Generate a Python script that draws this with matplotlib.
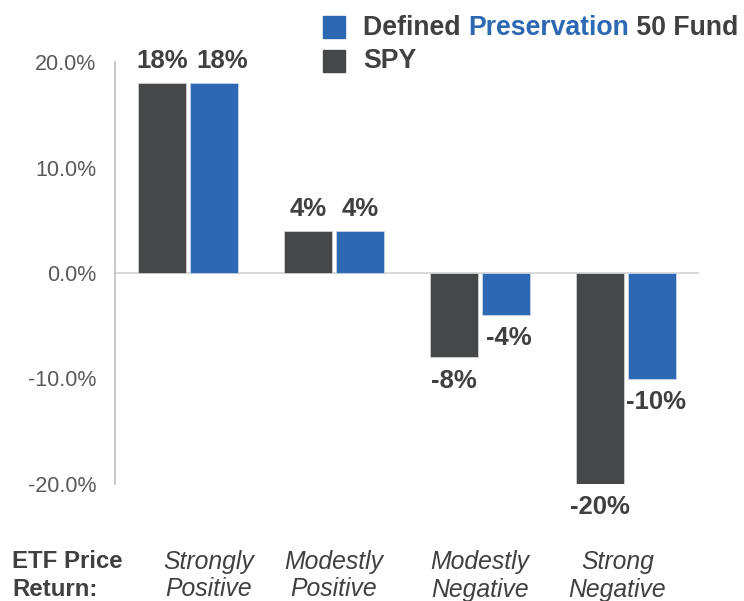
import matplotlib
matplotlib.use("Agg")
import matplotlib.pyplot as plt
from matplotlib.patches import Rectangle

plt.rcParams['font.family'] = ['Liberation Sans', 'DejaVu Sans']

categories = [("Strongly", "Positive"), ("Modestly", "Positive"),
              ("Modestly", "Negative"), ("Strong", "Negative")]
spy = [18, 4, -8, -20]
fund = [18, 4, -4, -10]
yticks = [-20, -10, 0, 10, 20]

SPY_COLOR = '#464749'
FUND_COLOR = '#2d68b3'
TEXT_DARK = '#404040'

W, H = 744, 601
fig = plt.figure(figsize=(W / 100, H / 100), dpi=100)
ax = fig.add_axes([115 / W, (H - 484) / H, 584 / W, 422 / H])

x = list(range(len(categories)))
bw = 0.335
off = 0.178
b1 = ax.bar([i - off for i in x], spy, bw, color=SPY_COLOR, edgecolor='#d0d0d0', linewidth=0.6, zorder=2)
b2 = ax.bar([i + off for i in x], fund, bw, color=FUND_COLOR, edgecolor='#c8d4e6', linewidth=0.6, zorder=2)

# small horizontal shifts (points) of the value labels, as in the original
spy_shift = [0, 0, 0, 0]
fund_shift = [6, 0, 2, 3]
for bars, vals, shifts in ((b1, spy, spy_shift), (b2, fund, fund_shift)):
    for bar, v, dx in zip(bars, vals, shifts):
        cx = bar.get_x() + bar.get_width() / 2
        if v >= 0:
            ax.annotate(f"{v}%", (cx, v), xytext=(dx, 7), textcoords='offset points',
                        ha='center', va='bottom', fontsize=18.5, fontweight='bold',
                        color=TEXT_DARK, annotation_clip=False)
        else:
            ax.annotate(f"{v}%", (cx, v), xytext=(dx, -8), textcoords='offset points',
                        ha='center', va='top', fontsize=18.5, fontweight='bold',
                        color=TEXT_DARK, annotation_clip=False)

ax.set_xlim(-0.5, 3.5)
ax.set_ylim(-20, 20)
ax.axhline(0, color='#d9d9d9', linewidth=1.5, zorder=1)
for s in ('top', 'right', 'bottom'):
    ax.spines[s].set_visible(False)
ax.spines['left'].set_color('#c0c0c0')
ax.spines['left'].set_linewidth(1.2)
ax.set_xticks([])
ax.set_yticks(yticks)
ax.set_yticklabels([f"{t:.1f}%" for t in yticks])
ax.tick_params(axis='y', length=0, pad=13.5, labelsize=15.5, labelcolor='#595959')

# category labels under the plot
label_nudge = [0.14, 0, 0, -0.06]
for i, (l1, l2) in enumerate(categories):
    ax.text(i + label_nudge[i], -27.4, l1, ha='center', va='center', fontsize=17.8,
            style='italic', color=TEXT_DARK, clip_on=False)
    ax.text(i + label_nudge[i], -30.0, l2, ha='center', va='center', fontsize=17.8,
            style='italic', color=TEXT_DARK, clip_on=False)
fig.text(12 / W, 1 - 561 / H, "ETF Price", ha='left', va='center', fontsize=17.3,
         fontweight='bold', color=TEXT_DARK)
fig.text(12 / W, 1 - 589 / H, "Return:", ha='left', va='center', fontsize=17.3,
         fontweight='bold', color=TEXT_DARK)

# legend drawn by hand
fig.patches.append(Rectangle((323 / W, 1 - 38 / H), 22 / W, 22 / H,
                             transform=fig.transFigure, color=FUND_COLOR))
fig.patches.append(Rectangle((323 / W, 1 - 72 / H), 22 / W, 22 / H,
                             transform=fig.transFigure, color=SPY_COLOR))

renderer = fig.canvas.get_renderer()
xpos = 363 / W
for piece, col in (("Defined ", TEXT_DARK), ("Preservation", FUND_COLOR), (" 50 Fund", TEXT_DARK)):
    t = fig.text(xpos, 1 - 28 / H, piece, ha='left', va='center', fontsize=19.2,
                 fontweight='bold', color=col)
    bb = t.get_window_extent(renderer)
    xpos = bb.x1 / W
fig.text(363 / W, 1 - 61 / H, "SPY", ha='left', va='center', fontsize=19.2,
         fontweight='bold', color=TEXT_DARK)

fig.savefig("out.png", dpi=100)
